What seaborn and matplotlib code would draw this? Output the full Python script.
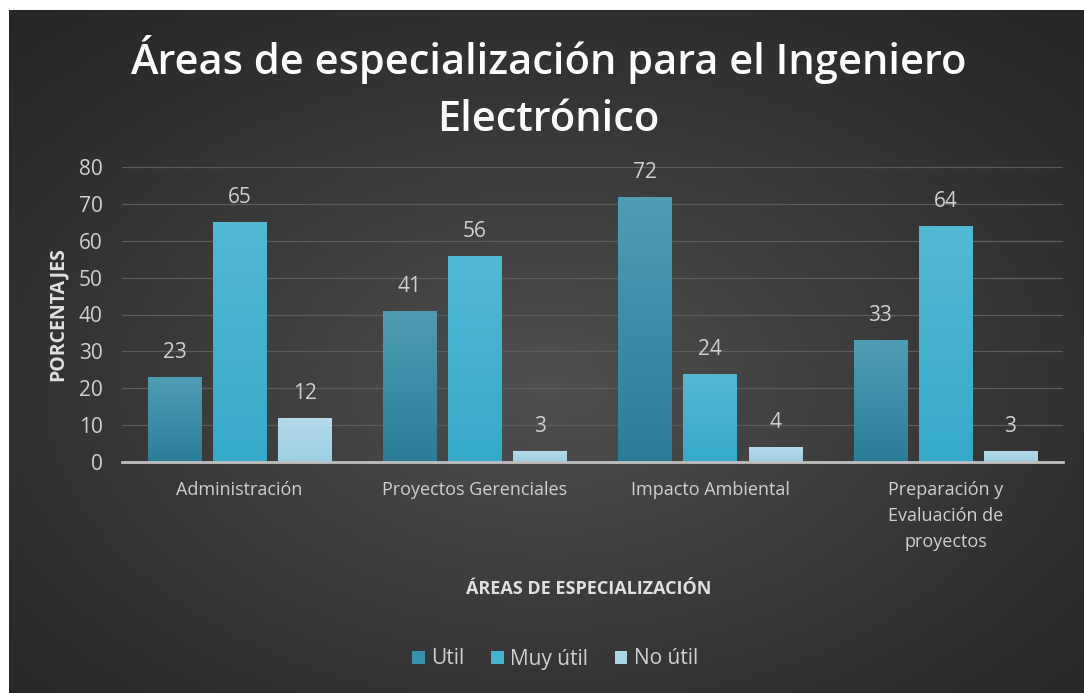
import numpy as np
import pandas as pd
import matplotlib
matplotlib.use("Agg")
import matplotlib.pyplot as plt
import seaborn as sns
from matplotlib.colors import to_rgb

categories = ["Administración", "Proyectos Gerenciales", "Impacto Ambiental",
              "Preparación y\nEvaluación de\nproyectos"]
series_names = ["Util", "Muy útil", "No útil"]
util = [23, 41, 72, 33]
muy_util = [65, 56, 24, 64]
no_util = [12, 3, 4, 3]
yticks = [0, 10, 20, 30, 40, 50, 60, 70, 80]

title = "Áreas de especialización para el Ingeniero\nElectrónico"
xlabel = "ÁREAS DE ESPECIALIZACIÓN"
ylabel = "PORCENTAJES"

df = pd.DataFrame({
    "cat": categories * 3,
    "serie": [series_names[0]] * 4 + [series_names[1]] * 4 + [series_names[2]] * 4,
    "val": util + muy_util + no_util,
})

sns.set_theme(style="dark")
plt.rcParams['font.family'] = ['Open Sans', 'DejaVu Sans']

W, H = 1084, 693
fig = plt.figure(figsize=(W / 100, H / 100), dpi=100)
fig.patch.set_facecolor("white")

# background radial gradient
bg = fig.add_axes([9 / W, 0, 1 - 9 / W, 1 - 10 / H])
bg.set_axis_off()
yy, xx = np.mgrid[0:1:300j, 0:1:500j]
r = np.sqrt(((xx - 0.5) / 0.75) ** 2 + ((yy - 0.45) / 0.75) ** 2)
v = np.clip(1 - r, 0, 1)
lo = np.array([0x26, 0x26, 0x26]) / 255
hi = np.array([0x50, 0x50, 0x50]) / 255
img = lo + (hi - lo) * v[..., None] ** 1.2
bg.imshow(img, aspect="auto", extent=[0, 1, 0, 1], origin="lower")
bg.set_xlim(0, 1); bg.set_ylim(0, 1)

ax = fig.add_axes([122 / W, 1 - 462 / H, (1063 - 122) / W, (462 - 167) / H])
ax.set_facecolor("none")
palette = {"Util": "#3a8fa9", "Muy útil": "#45b3d0", "No útil": "#a9d6e7"}
sns.barplot(data=df, x="cat", y="val", hue="serie", palette=palette,
            width=0.83, gap=0.18, ax=ax, saturation=1, legend=True,
            edgecolor="none")

# gradient overlay on bars
tops = {"Util": "#4f9db5", "Muy útil": "#52b9d4", "No útil": "#b4dbea"}
bots = {"Util": "#2b7d97", "Muy útil": "#36a9c9", "No útil": "#9ccfe3"}
for cont, name in zip(ax.containers, series_names):
    for p in cont.patches:
        x0, y0 = p.get_x(), p.get_y()
        w, h = p.get_width(), p.get_height()
        t = np.array(to_rgb(tops[name])); b = np.array(to_rgb(bots[name]))
        g = np.linspace(0, 1, 64)[:, None, None]
        grad = b + (t - b) * g
        im = ax.imshow(grad, extent=[x0, x0 + w, y0, y0 + h], origin="lower",
                       aspect="auto", zorder=p.get_zorder() + 0.1)
        im.set_clip_path(p)
    ax.bar_label(cont, labels=[f"{int(v)}" for v in cont.datavalues],
                 padding=10, color="#d0d0d0", fontsize=15)

ax.set_xlim(-0.5, 3.5)
ax.set_ylim(0, 80)
ax.set_yticks(yticks)
ax.set_yticklabels([str(t) for t in yticks], color="#d0d0d0", fontsize=15)
ax.tick_params(axis="y", pad=14, length=0)
ax.tick_params(axis="x", pad=14, length=0, labelcolor="#d0d0d0")
for lbl in ax.get_xticklabels():
    lbl.set_verticalalignment("top")
    lbl.set_fontsize(13)
    lbl.set_linespacing(1.55)
ax.grid(axis="y", color="#5c5c5c", linewidth=0.9)
ax.set_axisbelow(True)
for s in ["top", "right", "left"]:
    ax.spines[s].set_visible(False)
ax.spines["bottom"].set_color("#bfbfbf")
ax.spines["bottom"].set_linewidth(2)
ax.spines["bottom"].set_zorder(5)

ax.set_ylabel(ylabel, color="#e0e0e0", fontsize=14, fontweight="bold")
ax.yaxis.set_label_coords((68 - 122) / (1063 - 122), 0.5)
ax.set_xlabel(xlabel, color="#e0e0e0", fontsize=13, fontweight="bold")
ax.xaxis.set_label_coords((589 - 122) / (1063 - 122), (462 - 580) / (462 - 167))

leg = ax.legend(loc="center", bbox_to_anchor=((555 - 122) / (1063 - 122), (462 - 659) / (462 - 167)),
                ncol=3, frameon=False, fontsize=15, handlelength=0.6, handleheight=0.6,
                handletextpad=0.3, columnspacing=1.3)
for txt in leg.get_texts():
    txt.set_color("#d0d0d0")

fig.text(548 / W, 1 - 88 / H, title, ha="center", va="center", fontsize=30,
         color="white", fontweight="semibold", linespacing=1.45)

fig.savefig("out.png", dpi=100, facecolor=fig.get_facecolor())
